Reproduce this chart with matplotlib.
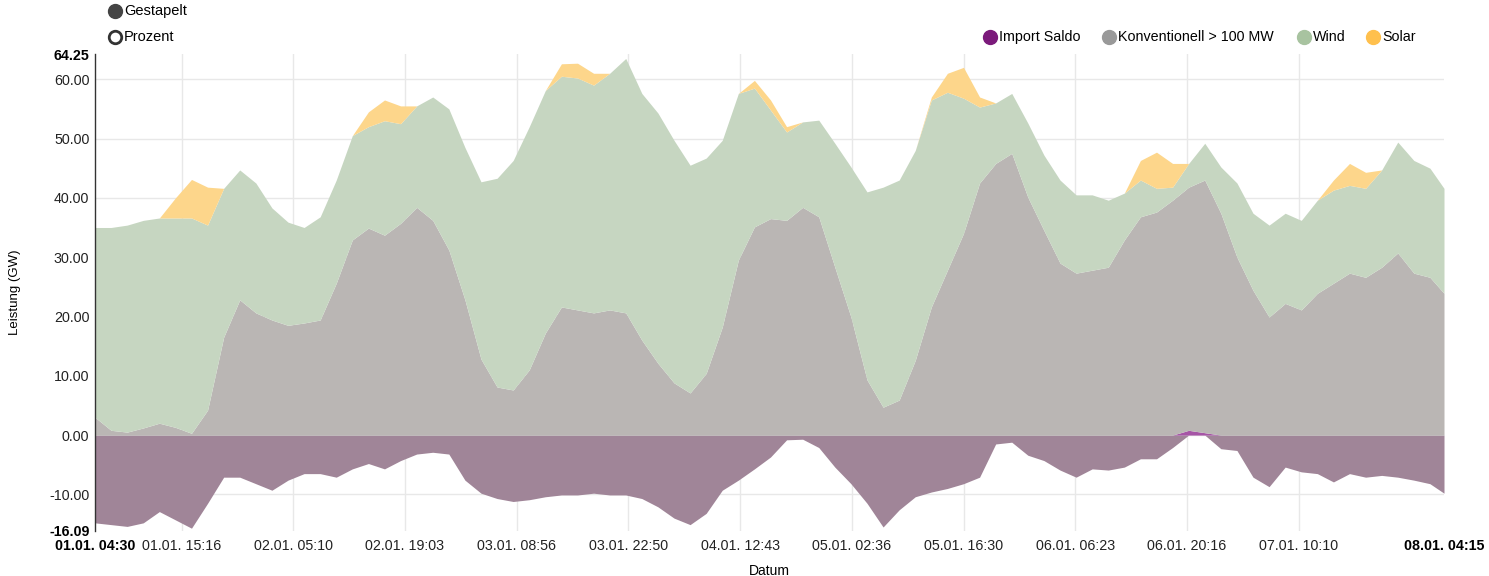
import pandas as pd
import numpy as np
import matplotlib
matplotlib.use("Agg")
import matplotlib.pyplot as plt
import matplotlib.dates as mdates
from matplotlib.lines import Line2D

plt.rcParams["font.family"] = ["Liberation Sans", "DejaVu Sans"]
plt.rcParams["font.size"] = 10

# time axis: 2-hourly samples from 01.01. 04:30 up to 08.01. 04:15
times = list(pd.date_range("2021-01-01 04:30", periods=84, freq="2h")) + [pd.Timestamp("2021-01-08 04:15")]

# GW values
konventionell = [3.0, 0.8, 0.5, 1.2, 2.0, 1.3, 0.3, 4.2, 16.5, 22.8,
                 20.6, 19.4, 18.5, 18.9, 19.4, 25.6, 32.9, 34.9, 33.7, 35.7,
                 38.4, 36.2, 31.2, 22.8, 12.8, 8.1, 7.6, 11.0, 17.2, 21.6,
                 21.1, 20.6, 21.1, 20.6, 16.0, 12.1, 8.8, 7.1, 10.4, 18.2,
                 29.5, 35.1, 36.5, 36.2, 38.4, 36.8, 28.3, 19.9, 9.3, 4.7,
                 5.9, 12.6, 21.6, 27.8, 34.0, 42.5, 45.8, 47.5, 40.1, 34.5,
                 29.0, 27.3, 27.8, 28.3, 32.9, 36.8, 37.6, 39.6, 41.0, 42.6,
                 37.4, 30.0, 24.4, 19.9, 22.2, 21.1, 23.9, 25.6, 27.3, 26.6,
                 28.3, 30.7, 27.3, 26.6, 23.9]

wind = [32.0, 34.2, 34.9, 35.0, 34.6, 35.3, 36.3, 31.2, 25.1, 21.9,
        21.9, 18.9, 17.4, 16.1, 17.4, 17.4, 17.6, 17.1, 19.3, 16.8,
        17.1, 20.8, 23.8, 25.7, 29.9, 35.2, 38.7, 41.0, 40.9, 38.9,
        39.1, 38.4, 39.9, 42.9, 41.6, 42.2, 40.9, 38.4, 36.3, 31.5,
        28.1, 23.4, 18.3, 14.9, 14.4, 16.3, 20.9, 25.3, 31.7, 37.1,
        37.1, 35.4, 34.9, 30.0, 22.8, 12.8, 10.2, 10.1, 12.5, 12.7,
        14.0, 13.2, 12.7, 11.3, 7.9, 6.2, 4.0, 2.2, 4.0, 6.2,
        7.8, 12.5, 13.0, 15.5, 15.2, 15.1, 15.7, 15.7, 14.8, 15.0,
        16.4, 18.7, 19.0, 18.4, 17.7]

solar = [0, 0, 0, 0, 0, 3.4, 6.5, 6.4, 0, 0,
         0, 0, 0, 0, 0, 0, 0, 2.5, 3.5, 3.0,
         0, 0, 0, 0, 0, 0, 0, 0, 0, 2.1,
         2.5, 2.0, 0, 0, 0, 0, 0, 0, 0, 0,
         0, 1.3, 1.7, 0.9, 0, 0, 0, 0, 0, 0,
         0, 0, 0.5, 3.2, 5.2, 1.7, 0, 0, 0, 0,
         0, 0, 0, 0, 0, 3.3, 6.1, 4.0, 0, 0,
         0, 0, 0, 0, 0, 0, 0, 1.7, 3.7, 2.7,
         0, 0, 0, 0, 0]

import_saldo = [-14.8, -15.1, -15.4, -14.8, -12.9, -14.3, -15.7, -11.5, -7.1, -7.1,
                -8.2, -9.3, -7.6, -6.5, -6.5, -7.1, -5.7, -4.8, -5.7, -4.3,
                -3.2, -2.9, -3.2, -7.6, -9.8, -10.7, -11.2, -10.9, -10.4, -10.1,
                -10.1, -9.8, -10.1, -10.1, -10.7, -12.1, -14.0, -15.1, -13.2, -9.3,
                -7.6, -5.7, -3.7, -0.8, -0.7, -2.1, -5.4, -8.2, -11.5, -15.5,
                -12.6, -10.4, -9.6, -9.0, -8.2, -7.1, -1.5, -1.2, -3.4, -4.3,
                -5.9, -7.1, -5.7, -5.9, -5.4, -4.0, -4.0, -2.1, 0.8, 0.4,
                -2.3, -2.6, -7.1, -8.7, -5.4, -6.2, -6.5, -7.9, -6.5, -7.1,
                -6.8, -7.1, -7.6, -8.2, -9.8]

tick_labels = ["2021-01-01 04:30", "2021-01-01 15:16", "2021-01-02 05:10", "2021-01-02 19:03",
               "2021-01-03 08:56", "2021-01-03 22:50", "2021-01-04 12:43", "2021-01-05 02:36",
               "2021-01-05 16:30", "2021-01-06 06:23", "2021-01-06 20:16", "2021-01-07 10:10",
               "2021-01-08 04:15"]
y_ticks = [-16.09, -10, 0, 10, 20, 30, 40, 50, 60, 64.25]

imp = np.array(import_saldo)
imp_neg = np.minimum(imp, 0)
imp_pos = np.maximum(imp, 0)
conv_top = imp_pos + np.array(konventionell)
wind_top = conv_top + np.array(wind)
solar_top = wind_top + np.array(solar)

fig = plt.figure(figsize=(14.89, 5.76), dpi=100)
ax = fig.add_axes([95 / 1489, 1 - 530.5 / 576, 1349 / 1489, 476.5 / 576])

# grid
for v in [-10, 0, 10, 20, 30, 40, 50, 60]:
    ax.axhline(v, color="#e8e8e8", lw=1, zorder=0)
xt = [pd.Timestamp(t) for t in tick_labels]
for t in xt[1:-1]:
    ax.axvline(t, color="#e8e8e8", lw=1, zorder=0)

ax.fill_between(times, 0, imp_neg, color="#a08598", lw=0, zorder=1)
ax.fill_between(times, 0, imp_pos, color="#a655a6", lw=0, zorder=1)
ax.fill_between(times, imp_pos, conv_top, color="#bab6b4", lw=0, zorder=1)
ax.fill_between(times, conv_top, wind_top, color="#c6d6c1", lw=0, zorder=1)
ax.fill_between(times, wind_top, solar_top, color="#fdd68b", lw=0, zorder=1)

ax.set_xlim(times[0], times[-1])
ax.set_ylim(-16.09, 64.25)

ax.set_yticks(y_ticks)
ax.set_yticklabels(["%.2f" % v for v in y_ticks])
ax.set_xticks(xt)
ax.xaxis.set_major_formatter(mdates.DateFormatter("%d.%m. %H:%M"))
ax.tick_params(axis="both", length=0, labelsize=10.3, colors="#222222")
ax.tick_params(axis="y", pad=4)
ax.tick_params(axis="x", pad=6)
for lab in [ax.get_yticklabels()[0], ax.get_yticklabels()[-1],
            ax.get_xticklabels()[0], ax.get_xticklabels()[-1]]:
    lab.set_fontweight("bold")
    lab.set_color("black")

for s in ["top", "right", "bottom"]:
    ax.spines[s].set_visible(False)
ax.spines["left"].set_color("#333333")
ax.spines["left"].set_linewidth(1)

ax.set_ylabel("Leistung (GW)", fontsize=9.5, labelpad=20)
ax.set_xlabel("Datum", fontsize=10, labelpad=8)

# radio buttons top left
def fx(px):
    return px / 1489

def fy(py):
    return 1 - py / 576

fig.add_artist(Line2D([fx(115)], [fy(11)], marker="o", ms=10, color="#444444", transform=fig.transFigure))
fig.text(fx(124), fy(11), "Gestapelt", fontsize=10.5, va="center", ha="left")
fig.add_artist(Line2D([fx(115)], [fy(37)], marker="o", ms=9, mfc="white", mec="#333333", mew=2,
                      transform=fig.transFigure))
fig.text(fx(124), fy(37), "Prozent", fontsize=10.5, va="center", ha="left")

# legend top right
legend_items = [("Import Saldo", "#7b1a7b", 990), ("Konventionell > 100 MW", "#999999", 1109),
                ("Wind", "#a8c3a0", 1304), ("Solar", "#ffc04d", 1373)]
for name, col, px in legend_items:
    fig.add_artist(Line2D([fx(px)], [fy(37)], marker="o", ms=10, color=col, transform=fig.transFigure))
    fig.text(fx(px + 9), fy(37), name, fontsize=10.3, va="center", ha="left")

fig.savefig("out.png", dpi=100)
